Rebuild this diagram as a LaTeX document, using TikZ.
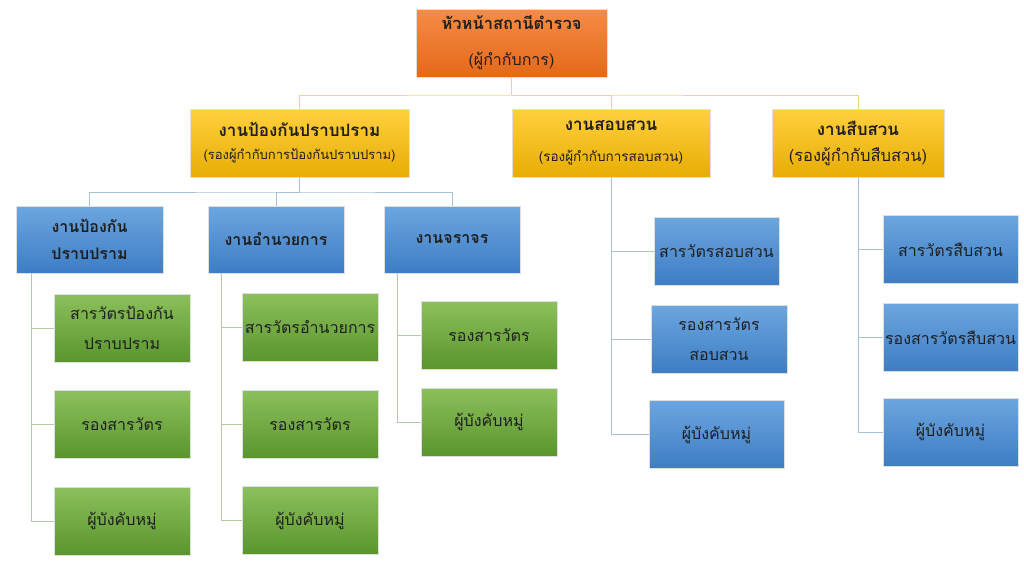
\documentclass[tikz,border=0pt]{standalone}
\usepackage{fontspec}
\setmainfont[Script=Thai]{Loma}
\definecolor{orangeT}{HTML}{F68C45}
\definecolor{orangeB}{HTML}{E4681A}
\definecolor{goldT}{HTML}{FFD03E}
\definecolor{goldB}{HTML}{E8AD05}
\definecolor{blueT}{HTML}{6CA6DF}
\definecolor{blueB}{HTML}{3E7DC5}
\definecolor{greenT}{HTML}{8CC05C}
\definecolor{greenB}{HTML}{5A952D}
\definecolor{yline}{HTML}{F3D67A}
\definecolor{bline}{HTML}{A9C1D7}
\definecolor{gline}{HTML}{B7C8A7}

\begin{document}
\begin{tikzpicture}[x=1pt, y=-1pt,
    box/.style = {draw=white!75!gray, line width=0.3pt, align=center, inner sep=2pt, text=black!88},
    chief/.style = {box, top color=orangeT, bottom color=orangeB, minimum width=191pt, minimum height=68pt, font=\fontsize{16}{36}\selectfont},
    dept/.style = {box, top color=goldT, bottom color=goldB, minimum height=68pt, font=\fontsize{17}{31}\selectfont},
    unit/.style = {box, top color=blueT, bottom color=blueB, minimum width=136pt, minimum height=67pt, font=\bfseries\fontsize{16}{27}\selectfont},
    post/.style = {box, top color=greenT, bottom color=greenB, minimum width=136pt, minimum height=68pt, font=\fontsize{16}{30}\selectfont},
    postb/.style = {box, top color=blueT, bottom color=blueB, minimum width=135pt, minimum height=68pt, font=\fontsize{16}{30}\selectfont},
    yl/.style = {draw=yline, line width=0.8pt},
    bl/.style = {draw=bline, line width=0.8pt},
    gl/.style = {draw=gline, line width=0.8pt}]

    \useasboundingbox (0,0) rectangle (1024,576);

    % หัวหน้า
    \node[chief] (chief) at (511.5,43) {{\bfseries\fontsize{16.5}{36}\selectfont หัวหน้าสถานีตำรวจ}\\(ผู้กำกับการ)};

    % รองผู้กำกับ
    \node[dept, minimum width=219pt] (prev) at (299.5,143) {\textbf{งานป้องกันปราบปราม}\\[-8pt]{\fontsize{13}{14}\selectfont(รองผู้กำกับการป้องกันปราบปราม)}};
    \node[dept, minimum width=198pt] (inq) at (611,143) {\textbf{งานสอบสวน}\\{\fontsize{13.5}{14}\selectfont(รองผู้กำกับการสอบสวน)}};
    \node[dept, minimum width=172pt] (inv) at (858,143) {\textbf{งานสืบสวน}\\[-5pt]{\fontsize{16.5}{14}\selectfont(รองผู้กำกับสืบสวน)}};

    % งานในสายป้องกันปราบปราม
    \node[unit, minimum width=147pt] (prevA) at (89.5,239.5) {งานป้องกัน\\ปราบปราม};
    \node[unit] (admin) at (276,239.5) {งานอำนวยการ};
    \node[unit] (traffic) at (452,239.5) {งานจราจร};

    % ตำแหน่ง
    \node[post] (pa1) at (122,328) {สารวัตรป้องกัน\\ปราบปราม};
    \node[post] (pa2) at (122,424.5) {รองสารวัตร};
    \node[post] (pa3) at (122,521) {ผู้บังคับหมู่};
    \node[post] (ad1) at (310,327) {สารวัตรอำนวยการ};
    \node[post] (ad2) at (310,424) {รองสารวัตร};
    \node[post] (ad3) at (310,520.5) {ผู้บังคับหมู่};
    \node[post] (tr1) at (489,335) {รองสารวัตร};
    \node[post] (tr2) at (489,422) {ผู้บังคับหมู่};

    \node[postb, minimum width=125pt] (iq1) at (716.5,251) {สารวัตรสอบสวน};
    \node[postb, minimum width=136pt] (iq2) at (719,339.5) {รองสารวัตร\\สอบสวน};
    \node[postb] (iq3) at (716.5,434.5) {ผู้บังคับหมู่};
    \node[postb] (iv1) at (950.5,249.5) {สารวัตรสืบสวน};
    \node[postb] (iv2) at (950.5,337.5) {รองสารวัตรสืบสวน};
    \node[postb] (iv3) at (950.5,432) {ผู้บังคับหมู่};

    % เส้นเชื่อม
    \coordinate (hub) at (511.5,95);
    \draw[yl] (chief.south) -- (hub);
    \draw[yl] (prev.north) |- (hub) -| (inv.north);
    \draw[yl] (hub) -| (inq.north);

    \coordinate (hubA) at (299.5,192);
    \draw[bl] (prev.south) -- (hubA);
    \draw[bl] (prevA.north) |- (hubA) -| (traffic.north);
    \draw[bl] (hubA) -| (admin.north);

    \foreach \i in {1,2,3} {
        \draw[gl] ([xshift=16pt]prevA.south west) |- (pa\i.west);
        \draw[gl] ([xshift=14pt]admin.south west) |- (ad\i.west);
        \draw[bl] (inq.south) |- (iq\i.west);
        \draw[bl] (inv.south) |- (iv\i.west);
    }
    \foreach \i in {1,2}
        \draw[gl] ([xshift=14pt]traffic.south west) |- (tr\i.west);

\end{tikzpicture}
\end{document}
